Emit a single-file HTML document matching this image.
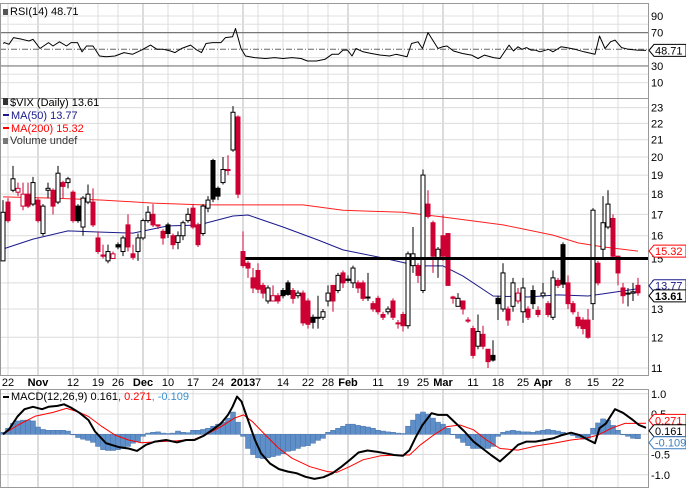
<!DOCTYPE html>
<html><head><meta charset="utf-8"><style>
html,body{margin:0;padding:0;background:#fff;}
svg{display:block;font-family:"Liberation Sans",sans-serif;}
</style></head><body>
<svg id="c" width="686" height="488" viewBox="0 0 686 488" xmlns="http://www.w3.org/2000/svg">
<rect x="0" y="0" width="686" height="488" fill="#fff"/>
<g id="grid"></g>
<g id="marks"></g>
<g id="labels"></g>
</svg>
<script>
// ---------- data ----------
const opens  = [14.9,17.6,18.2,18.1,17.4,18.0,17.5,17.7,16.1,18.2,18.2,17.6,18.6,18.6,18.1,17.4,16.4,17.6,17.6,15.9,15.15,14.9,15.0,15.6,15.3,16.5,15.2,15.3,15.9,16.7,17.0,16.5,16.2,16.5,16.0,15.7,16.0,16.7,17.3,16.5,16.1,17.3,19.8,18.3,18.6,19.3,20.4,22.4,15.3,14.8,14.2,14.5,13.9,13.3,13.3,13.5,13.7,14.0,13.7,13.5,13.6,13.3,12.7,12.7,12.7,13.3,13.9,13.7,14.4,14.15,14.0,14.0,14.0,13.45,13.2,13.4,12.8,12.9,13.3,12.5,12.8,12.4,14.7,14.7,13.7,17.5,16.6,15.0,16.0,16.1,13.45,13.1,13.3,12.6,12.3,11.7,12.1,11.6,11.4,13.4,13.0,13.0,13.1,13.3,12.9,13.0,13.7,12.95,13.5,13.2,12.7,14.1,15.6,14.0,13.2,12.7,12.6,12.6,13.2,14.8,15.4,16.4,16.8,15.1,13.8,13.6,13.6,13.9];
const closes = [17.1,16.7,18.8,18.3,18.0,17.4,18.6,16.7,17.4,18.3,17.4,19.1,18.4,18.8,16.7,16.7,17.8,18.0,16.5,15.3,15.1,15.3,15.2,15.5,15.9,15.5,15.05,15.9,16.7,17.1,16.5,16.45,15.9,16.1,15.6,16.0,16.6,17.0,16.4,15.6,17.4,17.7,17.75,17.9,19.3,19.25,22.7,18.0,14.7,14.6,13.8,13.75,13.6,13.8,13.5,13.3,13.5,13.55,13.4,13.6,12.5,12.45,12.52,12.7,12.9,13.6,13.3,14.3,14.0,14.1,14.6,13.8,13.4,13.42,13.0,12.9,12.7,13.0,12.7,12.5,12.4,15.2,15.2,14.3,19.0,16.9,15.1,15.4,15.1,13.9,13.4,13.4,13.0,12.6,11.4,12.2,11.7,11.2,11.25,13.2,14.4,12.6,14.0,13.6,13.8,12.7,13.2,12.8,13.6,12.8,14.2,13.9,13.95,13.2,12.9,12.4,12.3,12.0,17.2,14.0,16.6,17.5,15.1,14.4,13.5,13.6,13.65,13.61];
const highs  = [17.7,17.8,19.5,18.6,18.6,18.6,18.9,17.8,17.5,18.6,18.3,19.5,18.7,18.9,18.2,17.5,17.9,18.5,18.3,16.2,15.6,15.6,15.3,15.7,16.0,17.0,15.6,16.1,16.8,17.4,17.5,16.5,16.3,16.6,16.1,16.2,16.7,17.3,17.5,16.6,17.5,17.9,19.9,18.4,20.0,20.1,23.1,22.5,16.2,14.9,14.6,14.8,14.0,13.9,13.9,13.6,13.8,14.1,13.8,13.7,13.7,13.4,12.8,13.5,13.0,13.9,13.9,14.4,14.5,14.3,14.7,14.1,14.1,14.4,13.3,13.5,12.9,13.1,13.4,12.6,12.9,15.3,16.4,14.8,19.3,18.2,16.7,15.5,17.0,16.1,13.5,13.6,13.3,12.7,12.4,12.8,12.4,11.6,11.9,13.5,14.8,13.1,14.2,13.8,14.2,13.1,13.9,13.1,14.0,13.3,14.5,14.2,15.7,14.3,13.3,12.9,12.7,13.0,17.3,14.9,17.9,18.2,17.0,15.1,14.0,13.8,14.0,14.2];
const lows   = [14.9,16.6,18.1,17.9,17.2,17.3,17.4,16.6,16.0,17.8,17.0,17.5,17.8,18.3,16.6,16.6,16.0,17.5,16.4,15.2,15.0,14.8,15.0,15.4,15.1,15.3,14.95,14.9,15.8,16.6,16.4,16.3,15.6,15.9,15.4,15.4,15.8,16.6,16.3,15.5,16.0,17.1,17.6,17.7,18.5,19.0,20.3,17.8,14.6,14.2,13.6,13.6,13.4,13.2,13.3,13.2,13.4,13.5,13.2,13.4,12.4,12.3,12.3,12.3,12.6,13.1,12.9,13.6,13.8,14.0,13.8,13.6,13.3,13.3,12.9,12.8,12.6,12.8,12.6,12.3,12.2,12.3,14.4,14.0,13.6,16.8,14.4,14.2,14.9,13.9,13.2,13.1,12.8,12.5,11.3,11.6,11.6,11.0,11.2,12.6,12.9,12.4,12.9,13.2,12.5,12.6,13.0,12.7,13.4,12.7,12.6,13.8,13.8,13.0,12.8,12.3,12.1,11.95,12.6,13.9,15.0,16.3,15.0,13.9,13.2,13.1,13.3,13.5];

const ma50Idx = [0,6,13,19,26,33,39,46,49,56,63,68,76,83,88,92,98,105,111,117,121,127];
const ma50Val = [15.41,15.85,16.22,16.17,16.12,16.45,16.49,16.92,16.97,16.40,15.81,15.37,15.02,14.69,14.69,14.27,13.49,13.45,13.53,13.49,13.6,13.77];
const ma200Idx = [0,10,20,30,40,50,60,68,80,88,100,110,115,120,127];
const ma200Val = [17.86,17.80,17.70,17.55,17.46,17.46,17.46,17.2,17.1,16.87,16.5,16.03,15.68,15.5,15.32];

const rsiIdx = [0,0.3,1.2,2.1,3.8,5.2,6,7.4,9.1,10,11.3,12.7,13.6,14.9,15.8,16.7,18,19.3,20.6,22.4,24.2,25.9,27.7,29.5,30.8,32.1,33.5,34.4,35.7,37.5,38.8,39.7,40.6,41.9,43.6,44.5,45.9,46.5,47.6,48.5,50.3,52.5,54.3,56,57.8,59.6,60.9,62.7,64.4,65.8,67.1,68,68.9,69.8,70.6,72,73.7,75.5,77.3,78.6,80.8,81.7,83,83.9,85,87,87.9,88.8,90.1,91.9,93.7,95,96.3,98.1,99.4,101.2,102.1,103,103.8,104.7,105.6,106.5,107.4,109.1,110,111.6,112.7,114.4,116.2,118.4,119.3,120.4,121.5,122.4,123.7,125.1,126.8,128.6];
const rsiVal = [57,58,56,64,62,60,62,51,58,54,59,54,58,58,47,54,54,42,41,42,46,44,49,55,50,50,48,46,51,55,49,46,57,58,58,64,65,75,51,42,40,39,40,39,40,39,36,36,38,44,44,49,49,42,51,47,45,43,42,44,41,57,59,51,70,51,53,54,48,45,43,39,43,40,39,55,48,53,50,52,49,49,47,50,47,53,52,50,47,44,66,51,59,61,52,50,49,48.71];

const macdIdx = [0,1.2,2.9,4.3,6,7.8,9.1,10.9,12.2,13.6,15.3,17.1,18.4,20.6,23.3,25.1,26.8,28.6,30.4,32.6,34.8,36.6,38.3,40.1,41.9,43.6,45,45.9,46.8,47.7,49,50.4,51.6,53.4,55.2,57,58.7,60.5,62.3,64.1,65.9,67.7,69.5,71.1,72.9,74.7,76.5,78.2,80,81.3,82.6,83.9,85.7,87,88.8,90.6,92.3,94.1,95.9,97.6,99.4,101.2,103,104.7,106.5,108.3,110,111.8,113.6,115.3,117.1,118.4,119.3,120.6,122.4,124,126,127.2,128.6];
const macdVal = [0,0.12,0.44,0.62,0.68,0.62,0.68,0.70,0.74,0.66,0.53,0.35,0.07,-0.22,-0.32,-0.35,-0.41,-0.26,-0.18,-0.14,-0.2,-0.14,-0.14,-0.04,0.11,0.27,0.48,0.68,0.93,0.81,0.35,-0.14,-0.47,-0.72,-0.86,-0.92,-0.96,-1.05,-1.1,-1.06,-0.96,-0.8,-0.62,-0.45,-0.4,-0.43,-0.47,-0.51,-0.53,-0.39,-0.06,0.23,0.52,0.48,0.48,0.27,0.07,-0.18,-0.35,-0.51,-0.67,-0.47,-0.26,-0.18,-0.18,-0.14,-0.1,-0.02,0.04,-0.02,-0.14,-0.22,0.15,0.27,0.62,0.53,0.35,0.23,0.161];
const sigIdx = [0,3,6.5,10,12.7,14.9,17.1,19.8,22.4,25.1,27.7,31.3,34.8,38.3,41,43.6,46.3,48.1,49.9,52.5,55.2,57.8,61.4,64.9,66.7,69.3,72,75.5,79.1,81.3,83.5,86.1,88.8,91.4,94.1,96.7,99.4,103,106.6,110.1,113.6,116.4,119,121.7,124.4,128.6];
const sigVal = [0,0.23,0.45,0.54,0.64,0.56,0.44,0.19,-0.02,-0.14,-0.21,-0.18,-0.16,-0.12,0.02,0.19,0.40,0.48,0.31,-0.02,-0.35,-0.59,-0.8,-0.92,-0.94,-0.8,-0.63,-0.53,-0.51,-0.51,-0.26,-0.02,0.19,0.23,0.11,-0.14,-0.35,-0.39,-0.29,-0.22,-0.14,-0.1,-0.02,0.15,0.27,0.271];
const histVal = [0.05,0.15,0.27,0.33,0.35,0.35,0.33,0.18,0.12,0.1,0.1,0.1,0.1,0.08,0,-0.08,-0.12,-0.15,-0.2,-0.3,-0.38,-0.4,-0.4,-0.38,-0.35,-0.3,-0.22,-0.18,-0.05,0.03,0.05,0.06,0.03,0.02,0.03,0.08,0.05,0.04,0.1,0.1,0.12,0.15,0.2,0.25,0.3,0.4,0.55,0.3,-0.05,-0.35,-0.5,-0.58,-0.6,-0.58,-0.55,-0.52,-0.48,-0.42,-0.4,-0.35,-0.3,-0.28,-0.22,-0.15,-0.1,0.05,0.1,0.15,0.2,0.25,0.25,0.22,0.2,0.18,0.15,0.1,0.08,0.06,0.05,0.03,0.02,0.2,0.35,0.5,0.55,0.5,0.4,0.3,0.25,0.15,0,-0.1,-0.2,-0.28,-0.35,-0.35,-0.35,-0.35,-0.3,-0.05,0.05,0.08,0.1,0.08,0.06,0.06,0.05,0.08,0.1,0.12,0.1,0.08,0.05,0.02,-0.03,-0.08,-0.12,-0.1,0.15,0.28,0.38,0.35,0.22,0.1,0,-0.05,-0.1,-0.109];

const dateIdx = [1,7,14,19,23,28,33,38,43,48,51,56,61,65,69,75,80,84,88,94,99,104,108,113,118,123];
const dateLbl = ["22","Nov","12","19","26","Dec","10","17","24","2013","7","14","22","28","Feb","11","19","25","Mar","11","18","25","Apr","8","15","22"];
const monthFlag = [0,1,0,0,0,1,0,0,0,1,0,0,0,0,1,0,0,0,1,0,0,0,1,0,0,0];
const priceTicks = [11,12,13,14,15,16,17,18,19,20,21,22,23];
const rsiTicks = [10,30,70,90];
const macdTicks = [1.0,0.5,-0.5,-1.0];

// ---------- scales ----------
const PR = 648;
const xS = i => 3 + i*5;
const yP = p => 368 - 353*Math.log(p/11);
const yR = v => 49.3 - (v-50)*0.833;
const yM = v => 434.3 - v*40.5;

const NS = "http://www.w3.org/2000/svg";
const G = document.getElementById('grid'), M = document.getElementById('marks'), L = document.getElementById('labels');
function mk(tag, attrs, parent){ const e=document.createElementNS(NS,tag); for(const k in attrs) e.setAttribute(k,attrs[k]); parent.appendChild(e); return e; }

// panels background grid
const panels = [[3,98],[98,375],[389,487]];
// vertical grid lines
dateIdx.forEach((d,k)=>{
  const x = xS(d);
  panels.forEach(p=>{
    const l = mk('line',{x1:x,x2:x,y1:p[0],y2:p[1],stroke: monthFlag[k]?'#b8b8b8':'#dcdcdc','stroke-width':1},G);
    
    
  });
});
// RSI horizontal grid
[10,20,30,40,60,70,80,90].forEach(v=>{
  const strong = (v===30||v===70);
  const l = mk('line',{x1:0,x2:PR,y1:yR(v),y2:yR(v),stroke:strong?'#777':'#e0e0e0','stroke-width':strong?1.2:1},G);
  
  
});
{ const l = mk('line',{x1:0,x2:PR,y1:yR(50),y2:yR(50),stroke:'#666','stroke-dasharray':'6,2,1,2'},G);
  
   }
priceTicks.forEach(p=>{
  const l = mk('line',{x1:0,x2:PR,y1:yP(p),y2:yP(p),stroke:'#dcdcdc'},G);
  
  
});
[1,0.5,0,-0.5,-1].forEach(v=>{
  const l = mk('line',{x1:0,x2:PR,y1:yM(v),y2:yM(v),stroke:'#dcdcdc'},G);
  
  
});
// panel borders
panels.forEach(p=>{
  const r = mk('rect',{x:0.5,y:p[0]+0.5,width:PR,height:p[1]-p[0],fill:'none',stroke:'#999'},G);
  
  
});

function poly(idx, vals, yf, color, w, name, parent){
  const pts = idx.map((d,k)=>xS(d).toFixed(1)+','+yf(vals[k]).toFixed(1)).join(' ');
  const e = mk('polyline',{points:pts,fill:'none',stroke:color,'stroke-width':w,'stroke-linejoin':'round'},parent);
  
  
  return e;
}

// RSI
poly(rsiIdx, rsiVal, yR, '#000', 1, 'rsi-line', M);

// MACD histogram
histVal.forEach((v,i)=>{
  const y0 = yM(0), y1 = yM(v);
  const r = mk('rect',{x:xS(i)-2.5,y:Math.min(y0,y1),width:5,height:Math.max(0.5,Math.abs(y1-y0)),fill:'#5f8fc8',stroke:'#4a76ad','stroke-width':0.5},M);
  
  
});
poly(sigIdx, sigVal, yM, '#ff0000', 1, 'macd-signal-line', M);
poly(macdIdx, macdVal, yM, '#000', 2, 'macd-line', M);

// MAs
poly(ma200Idx, ma200Val, yP, '#ff2020', 1, 'ma200-line', M);
poly(ma50Idx, ma50Val, yP, '#1a1a8c', 1, 'ma50-line', M);

// candles
opens.forEach((o,i)=>{
  const c = closes[i], h = highs[i], l = lows[i];
  const prev = i>0 ? closes[i-1] : o;
  const col = c < prev ? '#cc0033' : '#000';
  const hollow = c >= o;
  const x = xS(i);
  const w = mk('line',{x1:x,x2:x,y1:yP(h),y2:yP(l),stroke:col,'stroke-width':1},M);
  
  
  const yt = yP(Math.max(o,c)), yb = yP(Math.min(o,c));
  const b = mk('rect',{x:x-2,y:yt,width:4,height:Math.max(1,yb-yt),fill:hollow?'#fff':col,stroke:col,'stroke-width':1},M);
  
  
});

// resistance line at 15
{ const l = mk('line',{x1:245,x2:PR,y1:yP(15),y2:yP(15),stroke:'#000','stroke-width':3},M);
  
   }

// axis labels
function txt(x,y,s,attrs,name){
  const t = mk('text',Object.assign({x:x,y:y,'font-size':11,fill:'#000'},attrs||{}),L);
  t.textContent = s;
  
  
  return t;
}
priceTicks.forEach(p=>txt(651,yP(p)+4,String(p),{},'price-tick-label'));
rsiTicks.forEach(v=>txt(651,yR(v)+4,String(v),{},'rsi-tick-label'));
macdTicks.forEach(v=>txt(651,yM(v)+4,v.toFixed(1),{},'macd-tick-label'));
dateIdx.forEach((d,k)=>txt(xS(d),386,dateLbl[k],{'text-anchor':'middle','font-weight':monthFlag[k]?'bold':'normal'},'date-label'));

function tag(y,s,color,bold,name){
  const g = mk('g',{},L);
  
  
  mk('path',{d:`M${PR+1},${y} l5,-6 h32 v12 h-32 z`,fill:'#fff',stroke:color,'stroke-width':1},g);
  const t = mk('text',{x:PR+7,y:y+4,'font-size':11,fill:bold?'#000':color,'font-weight':bold?'bold':'normal'},g);
  t.textContent = s;
}
tag(yR(48.71),'48.71','#000',false,'rsi-value-tag');
tag(yP(15.32),'15.32','#ff0000',false,'ma200-value-tag');
tag(yP(13.77)-3,'13.77','#1a1a8c',false,'ma50-value-tag');
tag(yP(13.61)+3,'13.61','#000',true,'last-price-tag');
tag(yM(0.271)-3,'0.271','#ff0000',false,'signal-value-tag');
tag(yM(0.161)+3,'0.161','#000',false,'macd-value-tag');
tag(yM(-0.109)+4,'-0.109','#3a7fc0',false,'histogram-value-tag');
</script>
<svg style="position:absolute;left:0;top:0" width="686" height="488" xmlns="http://www.w3.org/2000/svg" font-family="Liberation Sans, sans-serif" font-size="11">
<g><rect x="3" y="9" width="5" height="6" fill="#555"/><text x="10" y="15">RSI(14) 48.71</text></g>
<g>
<rect x="3" y="98" width="5" height="7" fill="#333"/><text x="10" y="106">$VIX (Daily) 13.61</text>
<rect x="3" y="114" width="6" height="2" fill="#1a1a8c"/><text x="11" y="119" fill="#1a1a8c">MA(50) 13.77</text>
<rect x="3" y="127" width="6" height="2" fill="#ff0000"/><text x="11" y="132" fill="#ff0000">MA(200) 15.32</text>
<rect x="3" y="138" width="5" height="6" fill="#777"/><text x="10" y="144" fill="#333">Volume undef</text>
</g>
<g><rect x="3" y="396" width="6" height="2" fill="#000"/><text x="11" y="400">MACD(12,26,9) 0.161<tspan fill="#ff0000">, 0.271</tspan><tspan fill="#3a8fd0">, -0.109</tspan></text></g>
</svg>
</body></html>
